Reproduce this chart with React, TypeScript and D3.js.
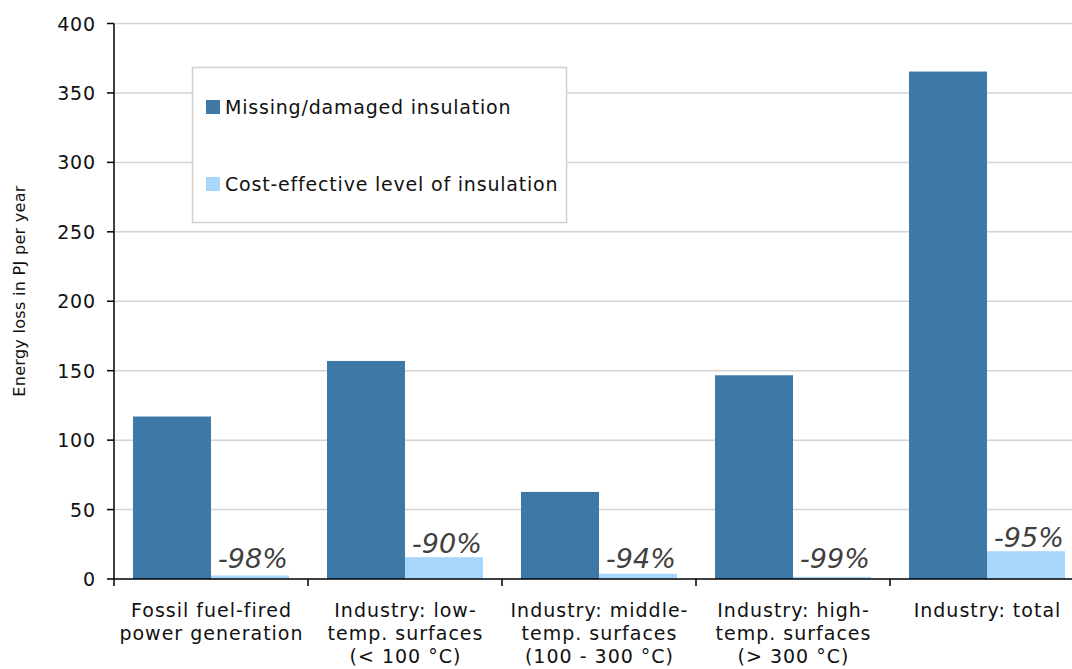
import React from "react";
import * as d3 from "d3";

const categories = [
  "Fossil fuel-fired power generation",
  "Industry: low-temp. surfaces (< 100 °C)",
  "Industry: middle-temp. surfaces (100 - 300 °C)",
  "Industry: high-temp. surfaces (> 300 °C)",
  "Industry: total",
];
const categoryLines = [
  ["Fossil fuel-fired", "power generation"],
  ["Industry: low-", "temp. surfaces", "(< 100 °C)"],
  ["Industry: middle-", "temp. surfaces", "(100 - 300 °C)"],
  ["Industry: high-", "temp. surfaces", "(> 300 °C)"],
  ["Industry: total"],
];
const seriesNames = ["Missing/damaged insulation", "Cost-effective level of insulation"];
const missingValues = [117, 157, 62.7, 146.7, 365.4];
const costEffectiveValues = [2.5, 15.7, 3.8, 1.6, 20];
const reductionLabels = ["-98%", "-90%", "-94%", "-99%", "-95%"];
const yTicks = [0, 50, 100, 150, 200, 250, 300, 350, 400];
const yTitle = "Energy loss in PJ per year";

const colors = ["#3E78A6", "#A8D5FB"];
const FONT = "'DejaVu Sans', Verdana, sans-serif";

export default function App() {
  const W = 1072, H = 669;
  const left = 114, right = 1084, top = 23.5, bottom = 579;
  const x = d3.scaleBand<string>().domain(categories).range([left, right]).padding(0);
  const bw = x.bandwidth();
  const po = (bw / 78 - 2) / 2;
  const xs = d3.scaleBand<string>().domain(seriesNames).range([0, bw]).paddingInner(0).paddingOuter(po);
  const y = d3.scaleLinear().domain([0, 400]).range([bottom, top]);
  const series = [missingValues, costEffectiveValues];

  return (
    <svg width={W} height={H} style={{ position: "absolute", left: 0, top: 0, background: "#fff" }} fontFamily={FONT}>
      {yTicks.filter((t) => t > 0).map((t) => (
        <line key={"g" + t} x1={left} x2={right} y1={y(t)} y2={y(t)} stroke="#d4d4d4" strokeWidth={1.5} />
      ))}
      <rect x={192.5} y={67.5} width={374} height={155} fill="#fff" stroke="#d0d0d0" strokeWidth={1.5} />
      {seriesNames.map((s, i) => (
        <g key={s}>
          <rect x={206} y={100 + i * 77} width={14} height={14} fill={colors[i]} />
          <text x={225} y={113.5 + i * 77} fontSize={19} fill="#111" letterSpacing={0.8}>{s}</text>
        </g>
      ))}
      {categories.map((c, ci) => (
        <g key={c}>
          {series.map((vals, si) => (
            <rect
              key={si}
              x={(x(c) as number) + (xs(seriesNames[si]) as number)}
              y={y(vals[ci])}
              width={xs.bandwidth()}
              height={y(0) - y(vals[ci])}
              fill={colors[si]}
            />
          ))}
          <text
            x={(x(c) as number) + (xs(seriesNames[1]) as number) + xs.bandwidth() / 2 + 3}
            y={Math.min(y(costEffectiveValues[ci]) - 4, y(0) - 11)}
            textAnchor="middle"
            fontSize={27}
            fontStyle="italic"
            fill="#404040"
          >
            {reductionLabels[ci]}
          </text>
        </g>
      ))}
      <line x1={left} x2={left} y1={top} y2={bottom} stroke="#000" strokeWidth={1.5} />
      {yTicks.map((t) => (
        <g key={"t" + t}>
          <line x1={left - 7} x2={left} y1={y(t)} y2={y(t)} stroke="#000" strokeWidth={1.5} />
          <text x={95.7} y={y(t) + 7} textAnchor="end" fontSize={19} fill="#111" letterSpacing={0.7}>{t}</text>
        </g>
      ))}
      <line x1={left} x2={right} y1={bottom} y2={bottom} stroke="#000" strokeWidth={1.5} />
      {categories.map((c) => (
        <line key={"xt" + c} x1={x(c) as number} x2={x(c) as number} y1={bottom} y2={bottom + 7} stroke="#000" strokeWidth={1.5} />
      ))}
      {categories.map((c, ci) => (
        <text key={"xl" + c} textAnchor="middle" fontSize={19} fill="#111" letterSpacing={1.0}>
          {categoryLines[ci].map((ln, li) => (
            <tspan key={li} x={(x(c) as number) + bw / 2 + 0.5} y={617 + li * 23}>{ln}</tspan>
          ))}
        </text>
      ))}
      <text transform={`translate(25,291) rotate(-90)`} textAnchor="middle" fontSize={16} fill="#111" letterSpacing={0.3}>{yTitle}</text>
    </svg>
  );
}
